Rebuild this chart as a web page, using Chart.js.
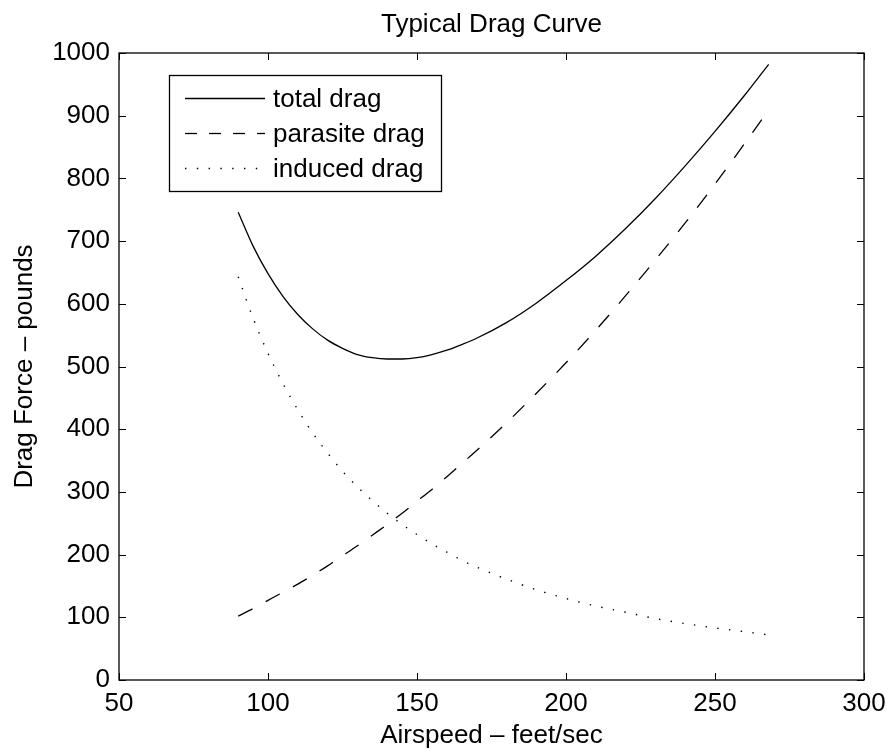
<!DOCTYPE html>
<html>
<head>
<title>Typical Drag Curve</title>
<script src="https://cdn.jsdelivr.net/npm/chart.js"></script>
<style>
  body { margin: 0; background: #ffffff; }
  canvas { display: block; }
</style>
</head>
<body>
<canvas id="dragChart" width="890" height="755"></canvas>
<script>
// values
const airspeed     = [90, 95, 100, 105, 110, 115, 120, 125, 130, 135, 140, 145, 150, 155, 160, 165, 170, 180, 190, 200, 210, 220, 230, 240, 250, 260, 268];
const totalDrag    = [746, 692, 648, 612, 583, 560, 542, 529, 519, 514, 512, 512, 514, 519, 526, 535, 545, 570, 601, 637, 676, 720, 768, 820, 875, 933, 982];
const parasiteDrag = [102, 114, 127, 140, 153, 167, 182, 198, 214, 231, 248, 266, 285, 304, 324, 345, 366, 410, 457, 506, 558, 613, 670, 729, 791, 856, 909];
const inducedDrag  = [643, 577, 521, 473, 431, 394, 362, 333, 308, 286, 266, 248, 232, 217, 204, 191, 180, 161, 144, 130, 118, 108, 98, 90, 83, 77, 72];

const xTicks = [50, 100, 150, 200, 250, 300];
const yTicks = [0, 100, 200, 300, 400, 500, 600, 700, 800, 900, 1000];

const fontFamily = '"Liberation Sans", Arial, Helvetica, sans-serif';
Chart.defaults.font.family = fontFamily;
Chart.defaults.color = '#000';

function points(ys) {
  return airspeed.map((x, i) => ({ x: x, y: ys[i] }));
}

// box round the plot, inward ticks on all four sides, and the boxed legend
const framePlugin = {
  id: 'frame',
  afterDraw(chart) {
    const ctx = chart.ctx;
    const a = chart.chartArea;
    const xs = chart.scales.x, ys = chart.scales.y;
    const tl = 7;
    ctx.save();
    ctx.strokeStyle = '#000';
    ctx.lineWidth = 1.3;
    ctx.setLineDash([]);
    ctx.strokeRect(a.left, a.top, a.right - a.left, a.bottom - a.top);
    ctx.lineWidth = 1;
    ctx.beginPath();
    xTicks.forEach(v => {
      const px = Math.round(xs.getPixelForValue(v)) + 0.5;
      ctx.moveTo(px, a.bottom); ctx.lineTo(px, a.bottom - tl);
      ctx.moveTo(px, a.top); ctx.lineTo(px, a.top + tl);
    });
    yTicks.forEach(v => {
      const py = Math.round(ys.getPixelForValue(v)) + 0.5;
      ctx.moveTo(a.left, py); ctx.lineTo(a.left + tl, py);
      ctx.moveTo(a.right, py); ctx.lineTo(a.right - tl, py);
    });
    ctx.stroke();

    // legend
    const bx = 169.5, by = 75.5, bw = 272, bh = 116;
    ctx.fillStyle = '#fff';
    ctx.fillRect(bx, by, bw, bh);
    ctx.lineWidth = 1.3;
    ctx.strokeRect(bx, by, bw, bh);
    const rows = [98, 133, 168];
    chart.data.datasets.forEach((ds, i) => {
      const y = rows[i] + 0.5;
      ctx.beginPath();
      ctx.lineWidth = ds.borderWidth;
      ctx.setLineDash(ds.legendDash || []);
      ctx.moveTo(185, y); ctx.lineTo(265, y);
      ctx.stroke();
      ctx.setLineDash([]);
      ctx.fillStyle = '#000';
      ctx.font = '26px ' + fontFamily;
      ctx.textAlign = 'left';
      ctx.textBaseline = 'middle';
      ctx.fillText(ds.label, 273, y + 1);
    });
    ctx.restore();
  }
};

new Chart(document.getElementById('dragChart'), {
  type: 'line',
  data: {
    datasets: [
      { label: 'total drag', data: points(totalDrag), borderColor: '#000', borderWidth: 1.3,
        pointRadius: 0, cubicInterpolationMode: 'monotone', fill: false },
      { label: 'parasite drag', data: points(parasiteDrag), borderColor: '#000', borderWidth: 1.3,
        borderDash: [16, 15], legendDash: [12, 12], pointRadius: 0, cubicInterpolationMode: 'monotone', fill: false },
      { label: 'induced drag', data: points(inducedDrag), borderColor: '#000', borderWidth: 1.4,
        borderDash: [1.4, 10.4], legendDash: [1.4, 10.4], pointRadius: 0, cubicInterpolationMode: 'monotone', fill: false }
    ]
  },
  options: {
    responsive: false,
    animation: false,
    layout: { padding: { left: 0, right: 26, top: 0, bottom: 0 } },
    plugins: {
      legend: { display: false },
      tooltip: { enabled: false },
      title: {
        display: true,
        fullSize: false,
        text: 'Typical Drag Curve',
        color: '#000',
        font: { size: 26, weight: 'normal' },
        padding: { top: 9.4, bottom: 12.4 }
      }
    },
    scales: {
      x: {
        type: 'linear',
        min: 50, max: 300,
        afterBuildTicks: s => { s.ticks = xTicks.map(v => ({ value: v })); },
        afterFit: s => { s.height = 75; s.paddingLeft = 0; s.paddingRight = 0; },
        grid: { display: false, drawTicks: false },
        border: { display: false },
        ticks: { font: { size: 26 }, padding: 8, maxRotation: 0, autoSkip: false, color: '#000',
                 callback: v => String(v) },
        title: { display: true, text: 'Airspeed \u2013 feet/sec', font: { size: 26 }, padding: { top: 0, bottom: 3.4 }, color: '#000' }
      },
      y: {
        min: 0, max: 1000,
        afterBuildTicks: s => { s.ticks = yTicks.map(v => ({ value: v })); },
        afterFit: s => { s.width = 119; s.paddingTop = 0; s.paddingBottom = 0; },
        grid: { display: false, drawTicks: false },
        border: { display: false },
        ticks: { font: { size: 26 }, padding: 9, autoSkip: false, color: '#000',
                 callback: v => String(v) },
        title: { display: true, text: 'Drag Force \u2013 pounds', font: { size: 26 }, padding: { top: 9.4, bottom: 0 }, color: '#000' }
      }
    }
  },
  plugins: [framePlugin]
});
</script>
</body>
</html>
